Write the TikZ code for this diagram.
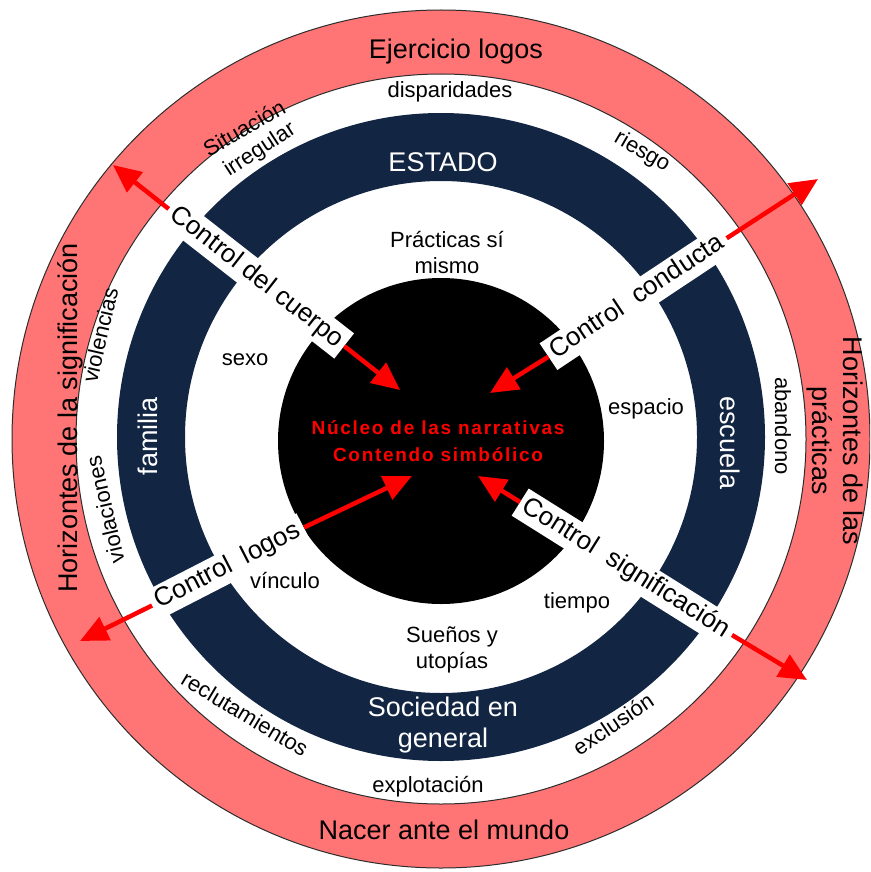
\documentclass[tikz,border=0pt]{standalone}
\usepackage{fontspec}
\setmainfont{Liberation Sans}
\usetikzlibrary{arrows.meta}
\definecolor{ringred}{RGB}{255,117,117}
\definecolor{navy}{RGB}{18,37,66}
\definecolor{edgegray}{RGB}{45,45,45}
\begin{document}
\begin{tikzpicture}[x=1pt,y=-1pt,
  big/.style={font=\fontsize{27}{31}\selectfont, inner sep=0pt, align=center},
  small/.style={font=\fontsize{22}{26}\selectfont, inner sep=0pt, align=center},
  navytext/.style={big, text=white},
  ctrl/.style={fill=white, font=\fontsize{26}{28}\selectfont, inner xsep=5pt, inner ysep=3.5pt, text height=19pt, text depth=6pt},
  arr/.style={draw=red, line width=4.5pt, -{Triangle[length=28pt,width=25pt]}},
  nucleo/.style={text=red, font=\fontsize{19}{27}\selectfont\bfseries\addfontfeatures{LetterSpace=9}, align=center, inner sep=0pt}
]
\clip (0,0) rectangle (870,872);
\fill[white] (0,0) rectangle (870,872);
% rings
\path[fill=ringred, draw=edgegray, line width=1pt, even odd rule]
  (441,439) circle[radius=429] (441,439) circle[radius=365];
\path[fill=navy, even odd rule]
  (441,437) circle[radius=324] (441,437) circle[radius=256];
\fill[black] (441,441) circle[radius=163];

% outer ring texts
\node[big] (ejer) at (456,52) {Ejercicio logos};
\node[big] (nacer) at (444,830) {Nacer ante el mundo};
\node[big, rotate=90] (hsig) at (70,418) {Horizontes de la significación};
\node[big, rotate=-90] (hpra) at (835,441) {Horizontes de las\\prácticas};

% white ring texts
\node[small] (disp) at (450,92) {disparidades};
\node[small, rotate=30] (situ) at (244,128) {Situación};
\node[small, rotate=33] (irre) at (260,150) {irregular};
\node[small, rotate=-30] (ries) at (642,152) {riesgo};
\node[small, rotate=77] (viol) at (100,335) {violencias};
\node[small, rotate=103] (viola) at (105,510) {violaciones};
\node[small, rotate=-90] (aban) at (783,426) {abandono};
\node[small, rotate=-31] (recl) at (245,714) {reclutamientos};
\node[small, rotate=34] (excl) at (613,724) {exclusión};
\node[small] (expl) at (428,787) {explotación};

% navy ring texts
\node[navytext] (estado) at (443,162) {ESTADO};
\node[navytext, rotate=90] (fam) at (148,436) {familia};
\node[navytext, rotate=-90] (esc) at (730,443) {escuela};
\node[navytext] (soc) at (443,725) {Sociedad en\\general};

% inner white texts
\node[small] (prac) at (447,253) {Prácticas sí\\mismo};
\node[small] (sexo) at (245,360) {sexo};
\node[small] (esp) at (646,409) {espacio};
\node[small] (vinc) at (285,581) {vínculo};
\node[small] (tiem) at (577,603) {tiempo};
\node[small] (suen) at (452,650) {Sueños y\\utopías};

% core text
\node[nucleo] (nuc) at (438,441) {Núcleo de las narrativas\\Contendo simbólico};

% control labels
\node[ctrl, rotate=-38] (cuerpo) at (256.5,277.5) {Control del cuerpo};
\node[ctrl, rotate=33.6] (cond) at (637.5,297.5) {Control~~conducta};
\node[ctrl, rotate=27.2] (logos) at (228,566.5) {Control~~logos};
\node[ctrl, rotate=-32.1] (sign) at (626,568.5) {Control~~significación};

% arrow ends
\coordinate (t1o) at (113,165);
\coordinate (t1i) at (400,390);
\coordinate (t2i) at (490,393);
\coordinate (t2o) at (818,179);
\coordinate (t3o) at (80,641);
\coordinate (t3i) at (412,476);
\coordinate (t4i) at (478,476);
\coordinate (t4o) at (807,680);

\draw[arr] (cuerpo.west) -- (t1o);
\draw[arr] (cuerpo.east) -- (t1i);
\draw[arr] (cond.west) -- (t2i);
\draw[arr] (cond.east) -- (t2o);
\draw[arr] (logos.west) -- (t3o);
\draw[arr] (logos.east) -- (t3i);
\draw[arr] (sign.west) -- (t4i);
\draw[arr] (sign.east) -- (t4o);
\end{tikzpicture}
\end{document}
